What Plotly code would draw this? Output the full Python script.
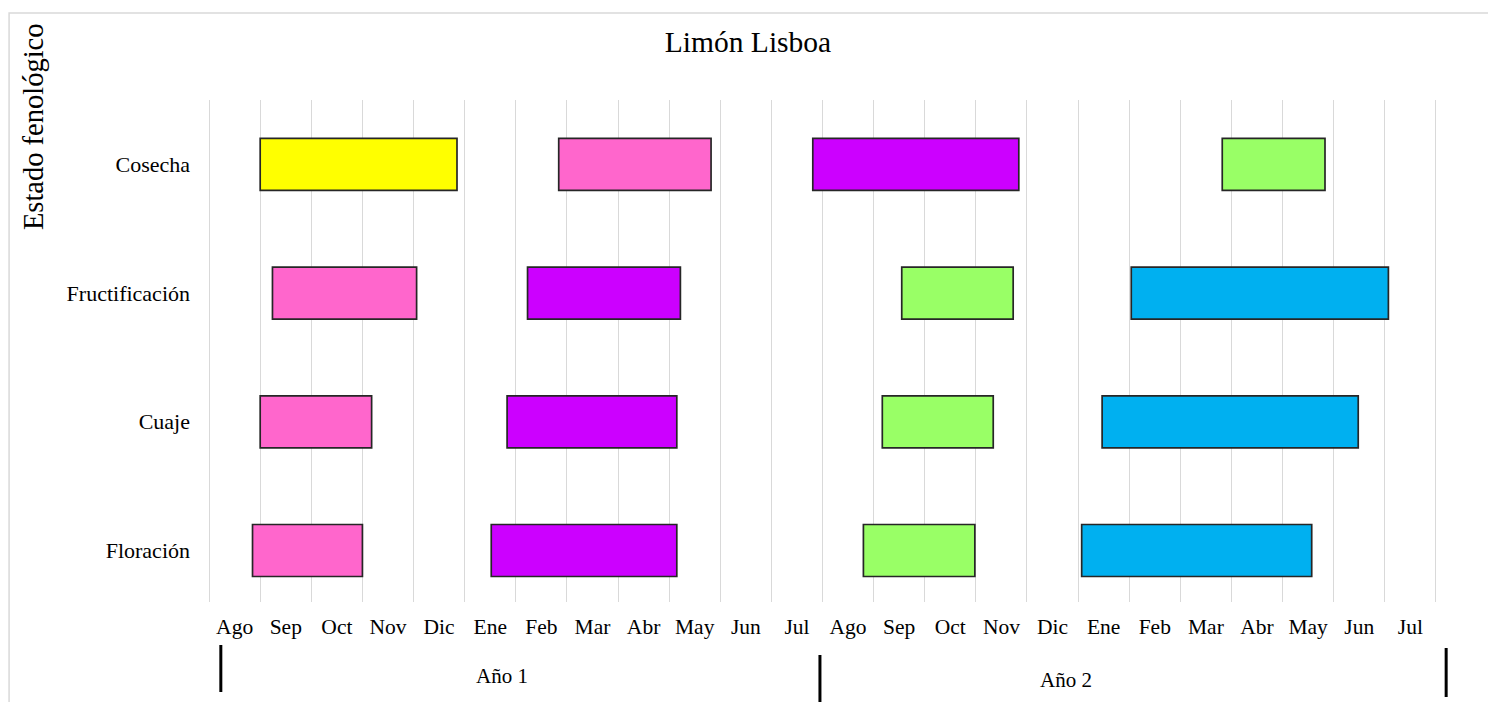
import plotly.graph_objects as go

# ---- data ----
stages = ["Floración", "Cuaje", "Fructificación", "Cosecha"]
months = ["Ago", "Sep", "Oct", "Nov", "Dic", "Ene", "Feb", "Mar", "Abr", "May", "Jun", "Jul",
          "Ago", "Sep", "Oct", "Nov", "Dic", "Ene", "Feb", "Mar", "Abr", "May", "Jun", "Jul"]

# start / end of each period, in months counted from the start of "Ago" (Año 1)
start_p1 = [0.85, 1.00, 1.24, 1.00]
end_p1   = [3.00, 3.18, 4.06, 4.85]
start_p2 = [5.52, 5.83, 6.23, 6.84]
end_p2   = [9.15, 9.15, 9.22, 9.82]
start_p3 = [12.80, 13.17, 13.55, 11.81]
end_p3   = [14.98, 15.34, 15.73, 15.84]
start_p4 = [17.07, 17.47, 18.04, 19.82]
end_p4   = [21.57, 22.48, 23.07, 21.83]

colors_p1 = ["#FF66CC", "#FF66CC", "#FF66CC", "#FFFF00"]
colors_p2 = ["#CC00FF", "#CC00FF", "#CC00FF", "#FF66CC"]
colors_p3 = ["#99FF66", "#99FF66", "#99FF66", "#CC00FF"]
colors_p4 = ["#00B0F0", "#00B0F0", "#00B0F0", "#99FF66"]

year_labels = ["Año 1", "Año 2"]
year_label_x = [5.73, 16.76]
year_sep_x = [0.23, 11.95, 24.2]

FONT = "Liberation Serif, Times New Roman, serif"

# page body has an 8px margin: figure is placed at (8, 8)
OFF = 8
W, H = 1496 - OFF, 702 - OFF
X0PX, X24PX = 209, 1436          # page x of month 0 and month 24
UNIT = (X24PX - X0PX) / 24
PAD = 0.06                        # range padding (months) so edge gridlines show
XMIN, XMAX = -PAD, 24 + PAD
PL, PR = X0PX - PAD * UNIT, X24PX + PAD * UNIT
PT, PB = 100, 602
PW, PH = PR - PL, PB - PT

def px_x(p):  # page x -> paper x
    return (p - PL) / PW

def px_y(p):  # page y -> paper y
    return (PB - p) / PH

def data_x(v):  # data x -> paper x
    return (v - XMIN) / (XMAX - XMIN)

fig = go.Figure()
periods = [(start_p1, end_p1, colors_p1), (start_p2, end_p2, colors_p2),
           (start_p3, end_p3, colors_p3), (start_p4, end_p4, colors_p4)]
ypos = list(range(len(stages)))
for s, e, c in periods:
    fig.add_trace(go.Bar(
        y=ypos, x=[b - a for a, b in zip(s, e)], base=s, orientation="h",
        width=0.404, marker=dict(color=c, line=dict(color="#262626", width=1.7)),
        showlegend=False, hoverinfo="skip"))

fig.update_layout(
    width=W, height=H,
    margin=dict(l=PL - OFF, r=W + OFF - PR, t=PT - OFF, b=H + OFF - PB),
    paper_bgcolor="white", plot_bgcolor="white",
    font=dict(family=FONT, color="#000000"),
    title=dict(text="Limón Lisboa", x=(748 - OFF) / W, xref="container", xanchor="center",
               y=1 - (42 - OFF) / H, yref="container", yanchor="middle",
               font=dict(size=29.5, family=FONT, color="#000000")),
    barmode="overlay",
)
fig.update_xaxes(
    range=[XMIN, XMAX], tickmode="array",
    tickvals=[i + 0.5 for i in range(len(months))], ticktext=months,
    showgrid=False, zeroline=False, showline=False, ticks="",
    ticklabelstandoff=9,
    tickfont=dict(size=21.5, family=FONT, color="#000000"),
    minor=dict(tick0=0, dtick=1, showgrid=True, gridcolor="#d9d9d9", gridwidth=1.3, ticks=""),
)
fig.update_yaxes(
    range=[-0.40, 3.50], tickmode="array", tickvals=ypos, ticktext=stages,
    showgrid=False, zeroline=False, showline=False, ticks="",
    ticklabelstandoff=15,
    tickfont=dict(size=22, family=FONT, color="#000000"),
)

# y-axis title near the top-left
fig.add_annotation(text="Estado fenológico", textangle=-90, xref="paper", yref="paper",
                   x=px_x(34), y=px_y(127), showarrow=False,
                   xanchor="center", yanchor="middle",
                   font=dict(size=28.5, family=FONT, color="#000000"))

# year labels and separators
for lbl, xv, yp in zip(year_labels, year_label_x, [px_y(676), px_y(680)]):
    fig.add_annotation(text=lbl, x=xv, y=yp, xref="x", yref="paper", showarrow=False,
                       xanchor="center", yanchor="middle",
                       font=dict(size=21, family=FONT, color="#000000"))
sep_y = [(px_y(645), px_y(692)), (px_y(655), px_y(710)), (px_y(648), px_y(697))]
for xv, (y0, y1) in zip(year_sep_x, sep_y):
    fig.add_shape(type="line", xref="paper", yref="paper",
                  x0=data_x(xv), x1=data_x(xv), y0=y0, y1=y1,
                  line=dict(color="black", width=3))

# light frame of the chart area
fig.add_shape(type="rect", xref="paper", yref="paper",
              x0=px_x(9), x1=px_x(1520), y0=px_y(730), y1=px_y(13),
              line=dict(color="#d9d9d9", width=1.5), layer="below")

fig.write_html("out.html")
